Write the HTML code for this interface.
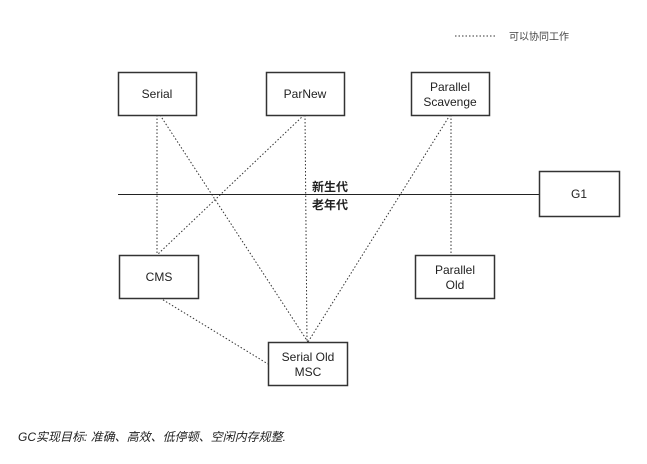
<!DOCTYPE html>
<html><head><meta charset="utf-8"><style>
body{margin:0;background:#fff;width:647px;height:459px;overflow:hidden}
svg text{font-family:"Liberation Sans","Noto Sans CJK SC",sans-serif}
</style></head><body>
<svg width="647" height="459" viewBox="0 0 647 459" xmlns="http://www.w3.org/2000/svg">
<g stroke="#333" stroke-width="1" stroke-dasharray="1.5,2" fill="none">
<line x1="455" y1="36" x2="497" y2="36"/>
<line x1="157" y1="115" x2="157" y2="255"/>
<line x1="160" y1="115" x2="308" y2="342"/>
<line x1="304" y1="115" x2="157" y2="255"/>
<line x1="305" y1="115" x2="307" y2="342"/>
<line x1="450" y1="115" x2="308" y2="342"/>
<line x1="451" y1="115" x2="451" y2="255"/>
<line x1="160" y1="298" x2="268" y2="364"/>
</g>
<line x1="118" y1="194.5" x2="539" y2="194.5" stroke="#222" stroke-width="1"/>
<g fill="#fff" stroke="#333" stroke-width="1.5">
<rect x="118.5" y="72.5" width="78" height="43"/>
<rect x="266.5" y="72.5" width="78" height="43"/>
<rect x="411.5" y="72.5" width="78" height="43"/>
<rect x="539.5" y="171.5" width="80" height="45"/>
<rect x="119.5" y="255.5" width="79" height="43"/>
<rect x="415.5" y="255.5" width="79" height="43"/>
<rect x="268.5" y="342.5" width="79" height="43"/>
</g>
<g font-size="12" fill="#222" text-anchor="middle">
<text x="157" y="98">Serial</text>
<text x="305" y="98">ParNew</text>
<text x="450" y="91">Parallel</text>
<text x="450" y="106">Scavenge</text>
<text x="579" y="198">G1</text>
<text x="159" y="281">CMS</text>
<text x="455" y="274">Parallel</text>
<text x="455" y="289">Old</text>
<text x="308" y="361">Serial Old</text>
<text x="308" y="376">MSC</text>
</g>
<text x="312" y="191" font-size="12" font-weight="bold" fill="#222">新生代</text>
<text x="312" y="209" font-size="12" font-weight="bold" fill="#222">老年代</text>
<text x="509" y="40" font-size="10" fill="#444">可以协同工作</text>
<text x="18" y="441" font-size="12" font-style="italic" fill="#222">GC实现目标: 准确、高效、低停顿、空闲内存规整.</text>
</svg>
</body></html>
